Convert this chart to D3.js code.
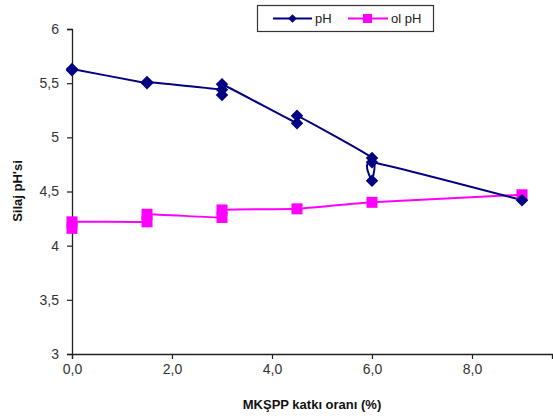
<!DOCTYPE html>
<html><head><meta charset="utf-8">
<script src="https://cdn.jsdelivr.net/npm/d3@7"></script>
<style>body{margin:0;background:#fff}svg{display:block}text{font-family:Arial,"Liberation Sans",sans-serif}</style>
</head><body>
<script>
const phX = [0, 0, 1.5, 1.5, 3, 3, 3, 4.5, 4.5, 6, 6, 6, 9];
const phY = [5.62, 5.63, 5.50, 5.51, 5.44, 5.39, 5.49, 5.13, 5.20, 4.81, 4.60, 4.77, 4.42];
const olX = [0, 0, 1.5, 1.5, 3, 3, 4.5, 6, 9];
const olY = [4.16, 4.22, 4.22, 4.29, 4.26, 4.33, 4.34, 4.40, 4.47];
const seriesNames = ["pH", "ol pH"];
const xTicks = [0, 2, 4, 6, 8];
const yTicks = [3, 3.5, 4, 4.5, 5, 5.5, 6];

const W = 553, H = 418;
const svg = d3.select("body").append("svg").attr("width", W).attr("height", H);
const x = d3.scaleLinear().domain([0, 9.6]).range([72, 552]);
const y = d3.scaleLinear().domain([3, 6]).range([354, 29]);
const fmt = v => v.toFixed(1).replace(".", ",");
const fmtY = v => String(v).replace(".", ",");

const xa = svg.append("g").attr("transform", "translate(0,354)")
  .call(d3.axisBottom(x).tickValues(xTicks).tickFormat(fmt).tickSize(5).tickPadding(5));
const ya = svg.append("g").attr("transform", "translate(72,0)")
  .call(d3.axisLeft(y).tickValues(yTicks).tickFormat(fmtY).tickSize(5).tickPadding(8));
[xa, ya].forEach(a => {
  a.select(".domain").attr("stroke", "#222").attr("stroke-width", 1.3);
  a.selectAll(".tick line").attr("stroke", "#222").attr("stroke-width", 1.2);
  a.selectAll("text").attr("font-size", 14).attr("fill", "#333");
});

const line = d3.line().curve(d3.curveCardinal.tension(0.55));
const phPts = phX.map((v, i) => [x(v), y(phY[i])]);
const olPts = olX.map((v, i) => [x(v), y(olY[i])]);

svg.append("path").attr("d", line(olPts)).attr("fill", "none").attr("stroke", "#FF00FF").attr("stroke-width", 2);
svg.append("path").attr("d", line(phPts)).attr("fill", "none").attr("stroke", "#000080").attr("stroke-width", 2);

const diamond = d3.symbol().type(d3.symbolSquare).size(78);
svg.append("g").selectAll("rect").data(olPts).join("rect")
  .attr("x", d => d[0] - 5.5).attr("y", d => d[1] - 5.5).attr("width", 11).attr("height", 11).attr("fill", "#FF00FF");
svg.append("g").selectAll("path").data(phPts).join("path")
  .attr("d", diamond).attr("transform", d => `translate(${d[0]},${d[1]}) rotate(45)`).attr("fill", "#000080");

// axis titles
svg.append("text").attr("x", 312).attr("y", 409).attr("text-anchor", "middle")
  .attr("font-size", 13).attr("font-weight", "bold").attr("fill", "#111").text("MKŞPP katkı oranı (%)");
svg.append("text").attr("transform", "translate(22,191) rotate(-90)").attr("text-anchor", "middle")
  .attr("font-size", 13).attr("font-weight", "bold").attr("fill", "#111").text("Silaj pH'si");

// legend
const lg = svg.append("g");
lg.append("rect").attr("x", 257.5).attr("y", 5.5).attr("width", 176).attr("height", 26)
  .attr("fill", "#fff").attr("stroke", "#333").attr("stroke-width", 1.2);
lg.append("line").attr("x1", 273).attr("x2", 312).attr("y1", 18.5).attr("y2", 18.5).attr("stroke", "#000080").attr("stroke-width", 2);
lg.append("path").attr("d", d3.symbol().type(d3.symbolSquare).size(36)).attr("transform", "translate(292.5,18.5) rotate(45)").attr("fill", "#000080");
lg.append("text").attr("x", 315).attr("y", 23).attr("font-size", 13).attr("fill", "#222").text(seriesNames[0]);
lg.append("line").attr("x1", 348).attr("x2", 388).attr("y1", 18.5).attr("y2", 18.5).attr("stroke", "#FF00FF").attr("stroke-width", 2);
lg.append("rect").attr("x", 363).attr("y", 14).attr("width", 9).attr("height", 9).attr("fill", "#FF00FF");
lg.append("text").attr("x", 391).attr("y", 23).attr("font-size", 13).attr("fill", "#222").text(seriesNames[1]);
</script>
</body></html>
